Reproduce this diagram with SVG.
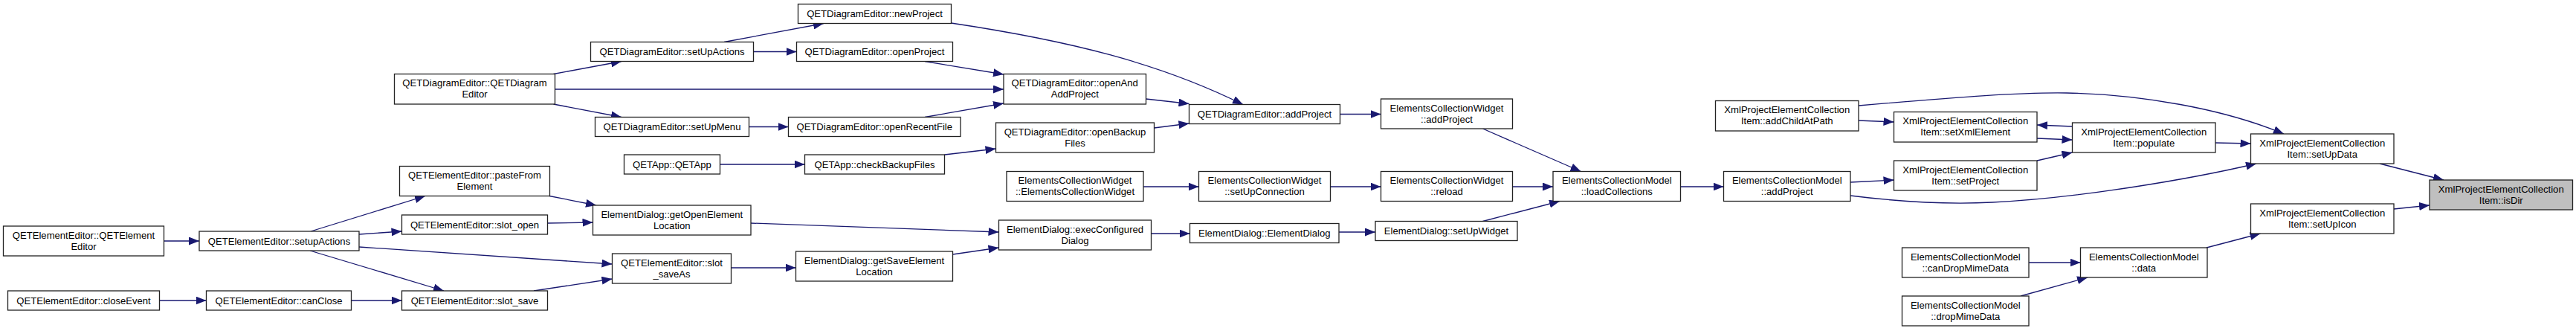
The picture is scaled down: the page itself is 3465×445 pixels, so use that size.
<svg xmlns="http://www.w3.org/2000/svg" width="3465" height="445" viewBox="0 0 3465 445">
<style>
.n rect{fill:#fff;stroke:#222;stroke-width:1.3}
.n text{font-family:"Liberation Sans",Arial,Helvetica,sans-serif;font-size:13.1px;fill:#000;text-anchor:middle}
.n.cur rect{fill:#bfbfbf}
#edges path{fill:none;stroke:#191970;stroke-width:1.3;marker-end:url(#ah)}
</style>
<defs>
<marker id="ah" markerUnits="userSpaceOnUse" markerWidth="14" markerHeight="11" refX="14" refY="5.5" orient="auto">
<path d="M0,0 L14,5.5 L0,11 z" fill="#191970"/>
</marker>
</defs>
<rect width="3465" height="445" fill="#fff"/>
<g id="edges">
<path d="M220.5,324 L268,324"/>
<path d="M214.5,404 L277.5,404"/>
<path d="M418,311 L572,263.5"/>
<path d="M483,315 L540.5,311"/>
<path d="M483,332 L823.5,355"/>
<path d="M417,337 L597,391"/>
<path d="M472.5,404 L540.5,404"/>
<path d="M744.5,99.5 L836,82.5"/>
<path d="M744.5,140 L836,157.5"/>
<path d="M746.5,120 L1350,120"/>
<path d="M739,263.5 L802,276"/>
<path d="M736.5,300 L797.5,299"/>
<path d="M718,391 L823.5,375"/>
<path d="M974,56.5 L1108,31.5"/>
<path d="M1013,69.5 L1071.5,69.5"/>
<path d="M1007.5,170.5 L1060.5,170.5"/>
<path d="M968.5,221 L1082.5,221"/>
<path d="M1010,300 L1343.5,312"/>
<path d="M983.5,360 L1070.5,360"/>
<path d="M1279.5,31 C1440,55 1560,85 1672,140.5"/>
<path d="M1244,82.5 L1350,100"/>
<path d="M1244,157.5 L1350,139"/>
<path d="M1541.5,133 L1599.5,139.5"/>
<path d="M1552.5,172 L1599.5,166"/>
<path d="M1270.5,208 L1339.5,200"/>
<path d="M1538,251 L1612.5,251"/>
<path d="M1548.5,314 L1600.5,314"/>
<path d="M1281.5,342 L1343.5,333"/>
<path d="M1802.5,153.5 L1857.5,153.5"/>
<path d="M1789.5,251 L1857.5,251"/>
<path d="M1801,312 L1850,312"/>
<path d="M1994.5,173 L2126.5,230.5"/>
<path d="M2034.5,251 L2089,251"/>
<path d="M1994.5,297.5 L2098,270.5"/>
<path d="M2260.5,251 L2318.5,251"/>
<path d="M2500,162 L2547.5,164"/>
<path d="M2500,142 C2640,130 2720,124 2780,125 C2880,127 2990,146 3072,180"/>
<path d="M2740,186 L2787.5,188"/>
<path d="M2787.5,170 L2740,168"/>
<path d="M2740,216 L2787.5,205"/>
<path d="M2489,245 L2547.5,242"/>
<path d="M2489,263 C2560,272 2620,275 2680,272 C2800,266 2950,240 3035,220"/>
<path d="M2729,353 L2798.5,353"/>
<path d="M2718,398 L2808,373"/>
<path d="M2980,192 L3027.5,193"/>
<path d="M3201,220 L3287,242"/>
<path d="M3220,281 L3268,276"/>
<path d="M2968,333 L3040.5,314"/>
</g>
<g id="n1" class="n"><rect x="4.5" y="304" width="216" height="40"/><text x="112.5" y="320.5">QETElementEditor::QETElement</text><text x="112.5" y="335.5">Editor</text></g>
<g id="n2" class="n"><rect x="10.5" y="391" width="204" height="26"/><text x="112.5" y="408.5">QETElementEditor::closeEvent</text></g>
<g id="n3" class="n"><rect x="268" y="311" width="215" height="26"/><text x="375.5" y="328.5">QETElementEditor::setupActions</text></g>
<g id="n4" class="n"><rect x="277.5" y="391" width="195" height="26"/><text x="375" y="408.5">QETElementEditor::canClose</text></g>
<g id="n5" class="n"><rect x="530.5" y="99.5" width="216" height="40.5"/><text x="638.5" y="116">QETDiagramEditor::QETDiagram</text><text x="638.5" y="131">Editor</text></g>
<g id="n6" class="n"><rect x="537.5" y="223.5" width="202" height="40"/><text x="638.5" y="240">QETElementEditor::pasteFrom</text><text x="638.5" y="255">Element</text></g>
<g id="n7" class="n"><rect x="540.5" y="289" width="196" height="26"/><text x="638.5" y="306.5">QETElementEditor::slot_open</text></g>
<g id="n8" class="n"><rect x="540.5" y="391" width="196" height="26"/><text x="638.5" y="408.5">QETElementEditor::slot_save</text></g>
<g id="n9" class="n"><rect x="794.5" y="56.5" width="219" height="26"/><text x="904" y="74">QETDiagramEditor::setUpActions</text></g>
<g id="n10" class="n"><rect x="800.5" y="157.5" width="207" height="26"/><text x="904" y="175">QETDiagramEditor::setUpMenu</text></g>
<g id="n11" class="n"><rect x="839.5" y="208" width="129" height="26"/><text x="904" y="225.5">QETApp::QETApp</text></g>
<g id="n12" class="n"><rect x="797.5" y="276" width="212.5" height="40"/><text x="903.75" y="292.5">ElementDialog::getOpenElement</text><text x="903.75" y="307.5">Location</text></g>
<g id="n13" class="n"><rect x="823.5" y="341" width="160" height="40"/><text x="903.5" y="357.5">QETElementEditor::slot</text><text x="903.5" y="372.5">_saveAs</text></g>
<g id="n14" class="n"><rect x="1073.5" y="5.5" width="206" height="26"/><text x="1176.5" y="23">QETDiagramEditor::newProject</text></g>
<g id="n15" class="n"><rect x="1071.5" y="56.5" width="210" height="26"/><text x="1176.5" y="74">QETDiagramEditor::openProject</text></g>
<g id="n16" class="n"><rect x="1060.5" y="157.5" width="231.5" height="26"/><text x="1176.25" y="175">QETDiagramEditor::openRecentFile</text></g>
<g id="n17" class="n"><rect x="1082.5" y="208" width="188" height="26"/><text x="1176.5" y="225.5">QETApp::checkBackupFiles</text></g>
<g id="n18" class="n"><rect x="1070.5" y="338" width="211" height="40"/><text x="1176" y="354.5">ElementDialog::getSaveElement</text><text x="1176" y="369.5">Location</text></g>
<g id="n19" class="n"><rect x="1350" y="99.5" width="191.5" height="40.5"/><text x="1445.75" y="116">QETDiagramEditor::openAnd</text><text x="1445.75" y="131">AddProject</text></g>
<g id="n20" class="n"><rect x="1339.5" y="165" width="213" height="40"/><text x="1446" y="181.5">QETDiagramEditor::openBackup</text><text x="1446" y="196.5">Files</text></g>
<g id="n21" class="n"><rect x="1354" y="230.5" width="184" height="40"/><text x="1446" y="247">ElementsCollectionWidget</text><text x="1446" y="262">::ElementsCollectionWidget</text></g>
<g id="n22" class="n"><rect x="1343.5" y="296" width="205" height="40"/><text x="1446" y="312.5">ElementDialog::execConfigured</text><text x="1446" y="327.5">Dialog</text></g>
<g id="n23" class="n"><rect x="1599.5" y="140.5" width="203" height="26"/><text x="1701" y="158">QETDiagramEditor::addProject</text></g>
<g id="n24" class="n"><rect x="1612.5" y="230.5" width="177" height="40"/><text x="1701" y="247">ElementsCollectionWidget</text><text x="1701" y="262">::setUpConnection</text></g>
<g id="n25" class="n"><rect x="1600.5" y="300.5" width="200.5" height="26"/><text x="1700.75" y="318">ElementDialog::ElementDialog</text></g>
<g id="n26" class="n"><rect x="1857.5" y="133" width="177" height="40"/><text x="1946" y="149.5">ElementsCollectionWidget</text><text x="1946" y="164.5">::addProject</text></g>
<g id="n27" class="n"><rect x="1857.5" y="230.5" width="177" height="40"/><text x="1946" y="247">ElementsCollectionWidget</text><text x="1946" y="262">::reload</text></g>
<g id="n28" class="n"><rect x="1850" y="297.5" width="191" height="26"/><text x="1945.5" y="315">ElementDialog::setUpWidget</text></g>
<g id="n29" class="n"><rect x="2089" y="230.5" width="171.5" height="40"/><text x="2174.75" y="247">ElementsCollectionModel</text><text x="2174.75" y="262">::loadCollections</text></g>
<g id="n30" class="n"><rect x="2318.5" y="230.5" width="170.5" height="40"/><text x="2403.75" y="247">ElementsCollectionModel</text><text x="2403.75" y="262">::addProject</text></g>
<g id="n31" class="n"><rect x="2307.5" y="135.5" width="192.5" height="40.5"/><text x="2403.75" y="152">XmlProjectElementCollection</text><text x="2403.75" y="167">Item::addChildAtPath</text></g>
<g id="n32" class="n"><rect x="2547.5" y="150.5" width="192.5" height="40.5"/><text x="2643.75" y="167">XmlProjectElementCollection</text><text x="2643.75" y="182">Item::setXmlElement</text></g>
<g id="n33" class="n"><rect x="2547.5" y="216" width="192.5" height="40"/><text x="2643.75" y="232.5">XmlProjectElementCollection</text><text x="2643.75" y="247.5">Item::setProject</text></g>
<g id="n34" class="n"><rect x="2787.5" y="165" width="192.5" height="40"/><text x="2883.75" y="181.5">XmlProjectElementCollection</text><text x="2883.75" y="196.5">Item::populate</text></g>
<g id="n35" class="n"><rect x="2558.5" y="333" width="170.5" height="40"/><text x="2643.75" y="349.5">ElementsCollectionModel</text><text x="2643.75" y="364.5">::canDropMimeData</text></g>
<g id="n36" class="n"><rect x="2558.5" y="398" width="170.5" height="40"/><text x="2643.75" y="414.5">ElementsCollectionModel</text><text x="2643.75" y="429.5">::dropMimeData</text></g>
<g id="n37" class="n"><rect x="2798.5" y="333" width="170.5" height="40"/><text x="2883.75" y="349.5">ElementsCollectionModel</text><text x="2883.75" y="364.5">::data</text></g>
<g id="n38" class="n"><rect x="3027.5" y="180" width="192.5" height="40"/><text x="3123.75" y="196.5">XmlProjectElementCollection</text><text x="3123.75" y="211.5">Item::setUpData</text></g>
<g id="n39" class="n"><rect x="3027.5" y="274" width="192.5" height="40"/><text x="3123.75" y="290.5">XmlProjectElementCollection</text><text x="3123.75" y="305.5">Item::setUpIcon</text></g>
<g id="n40" class="n cur"><rect x="3268" y="242" width="192.5" height="40"/><text x="3364.25" y="258.5">XmlProjectElementCollection</text><text x="3364.25" y="273.5">Item::isDir</text></g>
</svg>
